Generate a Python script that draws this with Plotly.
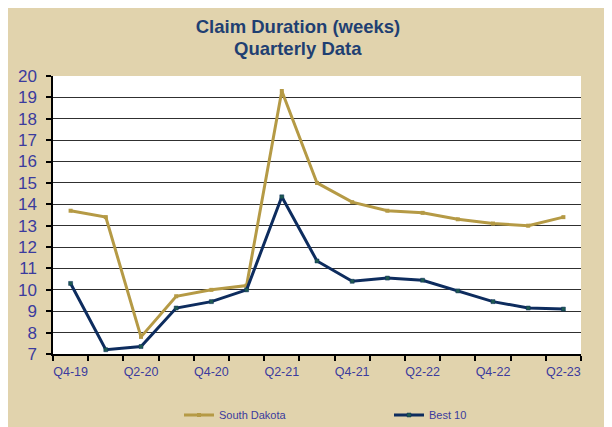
import plotly.graph_objects as go

quarters = ["Q4-19", "Q1-20", "Q2-20", "Q3-20", "Q4-20", "Q1-21", "Q2-21", "Q3-21",
            "Q4-21", "Q1-22", "Q2-22", "Q3-22", "Q4-22", "Q1-23", "Q2-23"]
south_dakota = [13.7, 13.4, 7.8, 9.7, 10.0, 10.2, 19.3, 15.0, 14.1, 13.7, 13.6, 13.3, 13.1, 13.0, 13.4]
best_10 = [10.3, 7.2, 7.35, 9.15, 9.45, 10.0, 14.35, 11.35, 10.4, 10.55, 10.45, 9.95, 9.45, 9.15, 9.1]
y_ticks = list(range(7, 21))
title_line1 = "Claim Duration (weeks)"
title_line2 = "Quarterly Data"

x_idx = list(range(len(quarters)))
# page body adds an 8px offset; figure coordinates = window coordinates - 8
W, H = 604, 419
L, R, T, B = 45, 31, 68, 73
pw, ph = W - L - R, H - T - B

def px_to_paper_x(px):
    return (px - L) / pw

def px_to_paper_y(py):
    return (H - B - py) / ph

gold = "#B59A45"
navy = "#0D2C5E"
label_color = "#3B3B9E"
title_color = "#1F3F72"
font_family = "Arial, Liberation Sans, sans-serif"

fig = go.Figure()
fig.add_trace(go.Scatter(
    x=x_idx, y=south_dakota, name="South Dakota", mode="lines+markers",
    line=dict(color=gold, width=3), marker=dict(symbol="square", size=4, color=gold),
))
fig.add_trace(go.Scatter(
    x=x_idx, y=best_10, name="Best 10", mode="lines+markers",
    line=dict(color=navy, width=3),
    marker=dict(symbol="square", size=4, color="#1E5A50", line=dict(color=navy, width=0.5)),
))

fig.update_layout(
    width=W, height=H,
    margin=dict(l=L, r=R, t=T, b=B, autoexpand=False),
    paper_bgcolor="#E1D3AD",
    plot_bgcolor="white",
    font=dict(family=font_family, color=label_color),
    title=dict(
        text="<b>" + title_line1 + "</b>",
        x=290 / W, xanchor="center", y=1 - 19 / H, yanchor="middle",
        font=dict(size=18.5, color=title_color, family=font_family),
    ),
    annotations=[
        dict(text="<b>" + title_line2 + "</b>", xref="paper", yref="paper",
             x=px_to_paper_x(290), y=px_to_paper_y(40.5), xanchor="center", yanchor="middle",
             showarrow=False, font=dict(size=18.5, color=title_color, family=font_family)),
    ],
    showlegend=True,
    legend=dict(
        orientation="h", x=px_to_paper_x(171), xanchor="left",
        y=px_to_paper_y(407), yanchor="middle",
        bgcolor="rgba(0,0,0,0)", font=dict(size=11, color=label_color),
        entrywidth=165, entrywidthmode="pixels",
        itemwidth=30,
    ),
)

fig.update_xaxes(
    range=[-0.5, len(quarters) - 0.5],
    tickmode="array", tickvals=x_idx[::2], ticktext=quarters[::2],
    ticks="", showgrid=False, zeroline=False,
    showline=True, linecolor="black", linewidth=1.5,
    tickfont=dict(size=12.5, color=label_color),
    ticklabelstandoff=5,
    minor=dict(tickmode="array", tickvals=[i - 0.5 for i in range(len(quarters) + 1)],
               ticks="outside", ticklen=5, tickcolor="black", tickwidth=1.5, showgrid=False),
)
fig.update_yaxes(
    range=[7, 20], tickmode="array", tickvals=y_ticks,
    ticks="outside", ticklen=5, tickcolor="black", tickwidth=1.5,
    showgrid=True, gridcolor="#303030", gridwidth=1, zeroline=False,
    showline=True, linecolor="black", linewidth=1.5,
    tickfont=dict(size=17, color=label_color),
    ticklabelstandoff=6,
)

fig.write_html("out.html")
